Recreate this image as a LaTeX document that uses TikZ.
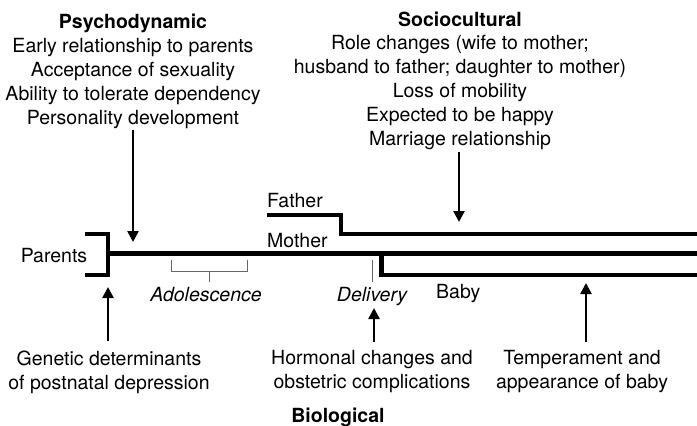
\documentclass[tikz,border=0pt]{standalone}
\usepackage{fontspec}
\setmainfont{TeX Gyre Heros}
\usetikzlibrary{arrows.meta}
\tikzset{
  txt/.style={font=\fontsize{19.5}{23.8}\selectfont, align=center, inner sep=0pt},
  life/.style={line width=4.4pt},
  arr/.style={-{Triangle[length=11pt,width=11pt]}, line width=2.5pt},
  thinline/.style={line width=1pt, black!60}
}
\begin{document}
\begin{tikzpicture}[x=1pt, y=-1pt, line join=miter]
	\useasboundingbox (0,0) rectangle (697,426);
	% life lines
	\draw[life] (85,234) -- (108,234) -- (108,275) -- (85,275);
	\draw[life] (108,253.5) -- (697,253.5);
	\draw[life] (267,215) -- (341,215) -- (341,234) -- (697,234);
	\draw[life] (381.5,253.5) -- (381.5,275) -- (697,275);
	\draw[thinline] (171,260) -- (171,271) -- (247,271) -- (247,260);
	\draw[thinline] (209,271) -- (209,282);
	\draw[thinline] (372,260) -- (372,282);
	% labels on the lines
	\node[txt, anchor=base] (parents) at (54,262) {Parents};
	\node[txt, anchor=base west] (father) at (267,207) {Father};
	\node[txt, anchor=base west] (mother) at (267,247) {Mother};
	\node[txt, anchor=base west] (baby) at (436,298) {Baby};
	\node[txt, anchor=base] (adol) at (206,301) {\itshape Adolescence};
	\node[txt, anchor=base] (deliv) at (372,301) {\itshape Delivery};
	% influences (base = last line)
	\node[txt, anchor=base] (psy) at (133,124) {\textbf{Psychodynamic}\\Early relationship to parents\\Acceptance of sexuality\\Ability to tolerate dependency\\Personality development};
	\node[txt, anchor=base] (soc) at (460,145) {\textbf{Sociocultural}\\Role changes (wife to mother;\\husband to father; daughter to mother)\\Loss of mobility\\Expected to be happy\\Marriage relationship};
	\node[txt, anchor=base] (gen) at (109,389) {Genetic determinants\\of postnatal depression};
	\node[txt, anchor=base] (horm) at (372,388) {Hormonal changes and\\obstetric complications};
	\node[txt, anchor=base] (temp) at (582,388) {Temperament and\\appearance of baby};
	\node[txt, anchor=base] (bio) at (338,422) {\textbf{Biological}};
	% arrows
	\coordinate (psyEnd) at (133,242);
	\coordinate (socEnd) at (459,222);
	\coordinate (genEnd) at (108,287);
	\coordinate (hormEnd) at (374,308);
	\coordinate (tempEnd) at (586,283);
	\draw[arr, shorten <=2pt] (psy.south -| psyEnd) -- (psyEnd);
	\draw[arr, shorten <=3pt] (soc.south -| socEnd) -- (socEnd);
	\draw[arr, shorten <=9pt] (gen.north -| genEnd) -- (genEnd);
	\draw[arr, shorten <=8pt] (horm.north -| hormEnd) -- (hormEnd);
	\draw[arr, shorten <=8pt] (temp.north -| tempEnd) -- (tempEnd);
\end{tikzpicture}
\end{document}
